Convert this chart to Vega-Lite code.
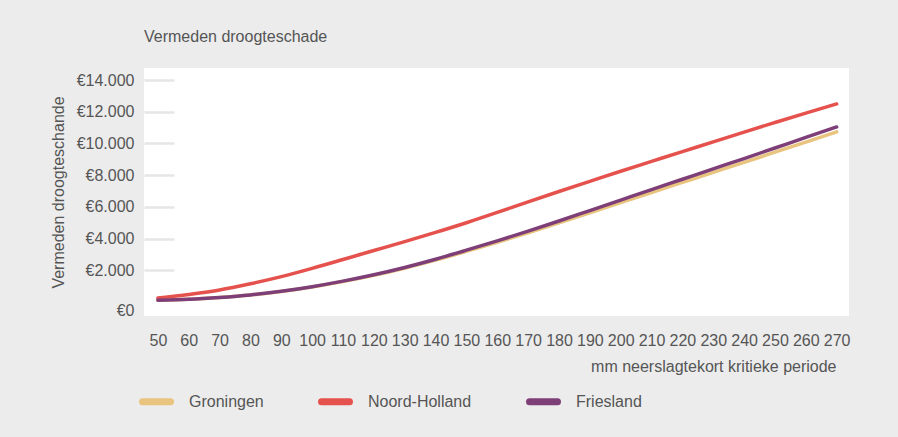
{
  "$schema": "https://vega.github.io/schema/vega-lite/v6.json",
  "width": 705,
  "height": 248,
  "autosize": "none",
  "padding": {"left": 144, "top": 68, "right": 49, "bottom": 121},
  "background": "#ececec",
  "config": {
    "view": {"fill": "#ffffff", "stroke": null},
    "font": "Liberation Sans",
    "title": {"font": "Liberation Sans", "fontSize": 16, "fontWeight": "normal", "color": "#555555"},
    "axis": {"labelFont": "Liberation Sans", "titleFont": "Liberation Sans", "labelColor": "#555555", "titleColor": "#555555", "titleFontWeight": "normal"},
    "legend": {"labelFont": "Liberation Sans", "labelColor": "#555555"}
  },
  "title": {"text": "Vermeden droogteschade", "anchor": "start", "frame": "group", "offset": 23},
  "data": {
    "values": [
      {"mm": 50, "regio": "Groningen", "schade": 120},
      {"mm": 60, "regio": "Groningen", "schade": 172},
      {"mm": 70, "regio": "Groningen", "schade": 285},
      {"mm": 80, "regio": "Groningen", "schade": 440},
      {"mm": 90, "regio": "Groningen", "schade": 665},
      {"mm": 100, "regio": "Groningen", "schade": 950},
      {"mm": 110, "regio": "Groningen", "schade": 1290},
      {"mm": 120, "regio": "Groningen", "schade": 1680},
      {"mm": 130, "regio": "Groningen", "schade": 2130},
      {"mm": 140, "regio": "Groningen", "schade": 2640},
      {"mm": 150, "regio": "Groningen", "schade": 3195},
      {"mm": 160, "regio": "Groningen", "schade": 3770},
      {"mm": 170, "regio": "Groningen", "schade": 4365},
      {"mm": 180, "regio": "Groningen", "schade": 4990},
      {"mm": 190, "regio": "Groningen", "schade": 5630},
      {"mm": 200, "regio": "Groningen", "schade": 6270},
      {"mm": 210, "regio": "Groningen", "schade": 6910},
      {"mm": 220, "regio": "Groningen", "schade": 7545},
      {"mm": 230, "regio": "Groningen", "schade": 8180},
      {"mm": 240, "regio": "Groningen", "schade": 8810},
      {"mm": 250, "regio": "Groningen", "schade": 9450},
      {"mm": 260, "regio": "Groningen", "schade": 10090},
      {"mm": 270, "regio": "Groningen", "schade": 10730},
      {"mm": 50, "regio": "Noord-Holland", "schade": 250},
      {"mm": 60, "regio": "Noord-Holland", "schade": 480},
      {"mm": 70, "regio": "Noord-Holland", "schade": 760},
      {"mm": 80, "regio": "Noord-Holland", "schade": 1150},
      {"mm": 90, "regio": "Noord-Holland", "schade": 1600},
      {"mm": 100, "regio": "Noord-Holland", "schade": 2120},
      {"mm": 110, "regio": "Noord-Holland", "schade": 2680},
      {"mm": 120, "regio": "Noord-Holland", "schade": 3250},
      {"mm": 130, "regio": "Noord-Holland", "schade": 3810},
      {"mm": 140, "regio": "Noord-Holland", "schade": 4390},
      {"mm": 150, "regio": "Noord-Holland", "schade": 5000},
      {"mm": 160, "regio": "Noord-Holland", "schade": 5650},
      {"mm": 170, "regio": "Noord-Holland", "schade": 6320},
      {"mm": 180, "regio": "Noord-Holland", "schade": 6970},
      {"mm": 190, "regio": "Noord-Holland", "schade": 7610},
      {"mm": 200, "regio": "Noord-Holland", "schade": 8250},
      {"mm": 210, "regio": "Noord-Holland", "schade": 8870},
      {"mm": 220, "regio": "Noord-Holland", "schade": 9490},
      {"mm": 230, "regio": "Noord-Holland", "schade": 10100},
      {"mm": 240, "regio": "Noord-Holland", "schade": 10720},
      {"mm": 250, "regio": "Noord-Holland", "schade": 11320},
      {"mm": 260, "regio": "Noord-Holland", "schade": 11910},
      {"mm": 270, "regio": "Noord-Holland", "schade": 12494},
      {"mm": 50, "regio": "Friesland", "schade": 120},
      {"mm": 60, "regio": "Friesland", "schade": 175},
      {"mm": 70, "regio": "Friesland", "schade": 290},
      {"mm": 80, "regio": "Friesland", "schade": 450},
      {"mm": 90, "regio": "Friesland", "schade": 680},
      {"mm": 100, "regio": "Friesland", "schade": 970},
      {"mm": 110, "regio": "Friesland", "schade": 1320},
      {"mm": 120, "regio": "Friesland", "schade": 1720},
      {"mm": 130, "regio": "Friesland", "schade": 2180},
      {"mm": 140, "regio": "Friesland", "schade": 2700},
      {"mm": 150, "regio": "Friesland", "schade": 3270},
      {"mm": 160, "regio": "Friesland", "schade": 3860},
      {"mm": 170, "regio": "Friesland", "schade": 4470},
      {"mm": 180, "regio": "Friesland", "schade": 5110},
      {"mm": 190, "regio": "Friesland", "schade": 5770},
      {"mm": 200, "regio": "Friesland", "schade": 6430},
      {"mm": 210, "regio": "Friesland", "schade": 7090},
      {"mm": 220, "regio": "Friesland", "schade": 7745},
      {"mm": 230, "regio": "Friesland", "schade": 8400},
      {"mm": 240, "regio": "Friesland", "schade": 9050},
      {"mm": 250, "regio": "Friesland", "schade": 9715},
      {"mm": 260, "regio": "Friesland", "schade": 10380},
      {"mm": 270, "regio": "Friesland", "schade": 11043}
    ]
  },
  "mark": {"type": "line", "interpolate": "monotone", "strokeWidth": 3.5, "strokeCap": "round"},
  "encoding": {
    "x": {
      "field": "mm",
      "type": "quantitative",
      "scale": {"domain": [45.5, 274], "nice": false, "zero": false},
      "axis": {
        "values": [50, 60, 70, 80, 90, 100, 110, 120, 130, 140, 150, 160, 170, 180, 190, 200, 210, 220, 230, 240, 250, 260, 270],
        "title": "mm neerslagtekort kritieke periode",
        "titleFontSize": 16,
        "titleX": 692,
        "titleY": 50,
        "titleAlign": "right",
        "titleAnchor": null,
        "titleBaseline": "middle",
        "labelFontSize": 16,
        "labelPadding": 16,
        "labelFlush": false,
        "labelOverlap": false,
        "ticks": false,
        "domain": false,
        "grid": false
      }
    },
    "y": {
      "field": "schade",
      "type": "quantitative",
      "scale": {"domain": [-880, 14760], "nice": false, "zero": false},
      "axis": {
        "values": [0, 2000, 4000, 6000, 8000, 10000, 12000, 14000],
        "labelExpr": "'€' + replace(format(datum.value, ','), ',', '.')",
        "title": "Vermeden droogteschande",
        "titleFontSize": 16,
        "titlePadding": 10,
        "labelFontSize": 16,
        "labelPadding": 40,
        "labelOffset": {"condition": {"test": "datum.value === 0", "value": 8}, "value": 0},
        "tickSize": -30,
        "tickWidth": 2.5,
        "tickColor": {"condition": {"test": "datum.value === 0", "value": "transparent"}, "value": "#e6e6e6"},
        "domain": false,
        "grid": false
      }
    },
    "color": {
      "field": "regio",
      "type": "nominal",
      "sort": ["Groningen", "Noord-Holland", "Friesland"],
      "scale": {"domain": ["Groningen", "Noord-Holland", "Friesland"], "range": ["#e9c47e", "#e5524d", "#7e3f78"]},
      "legend": {
        "title": null,
        "orient": "none",
        "direction": "horizontal",
        "legendX": -5,
        "legendY": 316,
        "symbolType": "stroke",
        "symbolSize": 784,
        "symbolStrokeWidth": 7,
        "labelFontSize": 16,
        "labelOffset": 15,
        "columnPadding": 43,
        "encode": {"symbols": {"update": {"strokeCap": {"value": "round"}}}}
      }
    }
  }
}
